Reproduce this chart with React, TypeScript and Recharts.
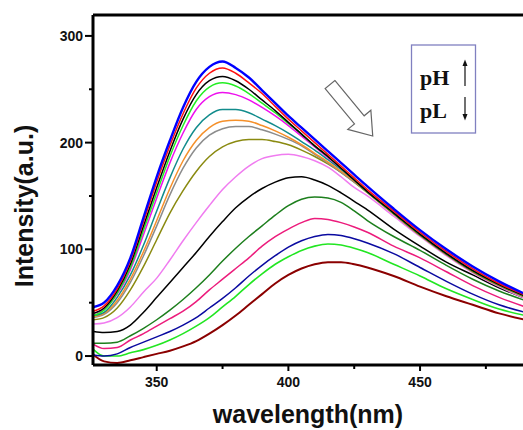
import { Line, LineChart, ReferenceLine, XAxis, YAxis } from "recharts";

// wavelength grid (nm) and intensity curves (a.u.)
const WAVELENGTH = [326, 330, 335, 340, 345, 350, 355, 360, 365, 370, 375, 380, 385, 390, 395, 400, 405, 410, 415, 420, 425, 430, 440, 450, 460, 470, 480, 490];

const blue = [46, 50, 66, 92, 130, 168, 202, 233, 257, 271, 276, 270, 261, 249, 237, 225, 214, 203, 192, 181, 170, 159, 138, 118, 100, 84, 70, 58];
const red = [42, 47, 63, 89, 126, 163, 197, 227, 251, 265, 270, 265, 256, 246, 234, 222, 211, 200, 189, 178, 167, 156, 136, 116, 98, 82, 68, 57];
const black = [40, 45, 61, 86, 122, 158, 192, 222, 245, 258, 262, 258, 250, 240, 230, 219, 208, 197, 187, 176, 165, 154, 134, 114, 96, 80, 67, 56];
const green = [38, 43, 59, 83, 118, 153, 187, 216, 239, 252, 256, 253, 246, 237, 228, 218, 208, 197, 187, 176, 165, 154, 134, 114, 96, 80, 67, 56];
const magenta = [40, 44, 58, 81, 114, 148, 181, 209, 231, 243, 247, 245, 240, 233, 225, 216, 206, 196, 186, 176, 165, 155, 135, 115, 97, 81, 68, 57];
const teal = [38, 41, 55, 76, 104, 136, 167, 194, 214, 226, 231, 231, 228, 222, 216, 209, 201, 193, 184, 175, 165, 154, 134, 114, 96, 80, 67, 56];
const orange = [37, 40, 52, 72, 98, 127, 157, 183, 202, 214, 220, 221, 220, 216, 211, 205, 198, 190, 182, 173, 164, 154, 134, 114, 96, 80, 67, 56];
const gray = [36, 39, 50, 69, 94, 122, 151, 176, 195, 207, 213, 215, 215, 212, 208, 203, 197, 189, 181, 172, 163, 154, 134, 114, 96, 80, 67, 56];
const olive = [34, 36, 45, 62, 84, 109, 134, 155, 173, 187, 196, 201, 203, 203, 201, 198, 193, 187, 180, 172, 163, 153, 133, 113, 95, 79, 66, 55];
const violet = [30, 31, 36, 46, 60, 73, 90, 108, 125, 141, 156, 168, 178, 185, 188, 189, 187, 183, 177, 168, 158, 150, 131, 112, 94, 78, 65, 54];
const black2 = [23, 22, 23, 29, 41, 55, 69, 83, 97, 112, 126, 139, 149, 157, 163, 167, 168, 165, 160, 153, 145, 137, 119, 103, 88, 76, 64, 54];
const darkGreen = [12, 12, 13, 19, 26, 34, 43, 53, 64, 76, 89, 101, 112, 122, 132, 141, 147, 149, 148, 144, 136, 127, 112, 99, 85, 72, 61, 52];
const pink = [11, 7, 8, 15, 21, 28, 35, 42, 51, 62, 72, 82, 92, 103, 112, 119, 125, 129, 128, 125, 121, 116, 103, 92, 79, 66, 55, 46];
const navy = [1, 0, 2, 8, 13, 18, 23, 29, 36, 45, 54, 64, 75, 85, 94, 102, 108, 112, 114, 113, 110, 106, 96, 83, 70, 58, 48, 41];
const lime = [6, 0, 0, 3, 6, 10, 15, 21, 28, 36, 46, 56, 67, 77, 86, 93, 99, 103, 105, 104, 101, 97, 86, 75, 63, 53, 44, 38];
const maroon = [1, -5, -6.5, -4, -1, 2, 5, 9, 14, 21, 29, 38, 48, 58, 68, 76, 82, 86, 88, 88, 86, 83, 75, 65, 56, 48, 40, 34];

const X_TICKS = [350, 375, 400, 425, 450, 475];
const Y_TICKS = [0, 50, 100, 150, 200, 250, 300];
const X_DOMAIN = [325.8, 489.1];
const Y_DOMAIN = [-8.4, 319.6];

// bottom curve first so the blue one ends up on top
const SERIES = [
  { key: "maroon", values: maroon, color: "#8b0000", width: 2 },
  { key: "lime", values: lime, color: "#22e622", width: 1.6 },
  { key: "navy", values: navy, color: "#0a0aa0", width: 1.5 },
  { key: "pink", values: pink, color: "#ec1c7c", width: 1.5 },
  { key: "darkGreen", values: darkGreen, color: "#1d7f1d", width: 1.5 },
  { key: "black2", values: black2, color: "#000000", width: 1.5 },
  { key: "violet", values: violet, color: "#f07cf0", width: 1.5 },
  { key: "olive", values: olive, color: "#8a8a10", width: 1.5 },
  { key: "gray", values: gray, color: "#8c8c8c", width: 1.5 },
  { key: "orange", values: orange, color: "#f5902a", width: 1.5 },
  { key: "teal", values: teal, color: "#128c8c", width: 1.5 },
  { key: "magenta", values: magenta, color: "#ee10ee", width: 1.5 },
  { key: "green", values: green, color: "#22ee22", width: 1.5 },
  { key: "black", values: black, color: "#000000", width: 1.5 },
  { key: "red", values: red, color: "#ff1010", width: 1.5 },
  { key: "blue", values: blue, color: "#0000ff", width: 2.4 }
];

const rows = WAVELENGTH.map((w, i) => {
  const row: Record<string, number> = { w };
  SERIES.forEach((s) => {
    row[s.key] = s.values[i];
  });
  return row;
});

const FONT = "'Liberation Sans', Arial, sans-serif";

function XTick(props: any) {
  const { x, y, payload } = props;
  const major = payload.value % 50 === 0;
  return (
    <g>
      <line x1={x} x2={x} y1={y} y2={y + (major ? 6 : 4)} stroke="#000" strokeWidth={2} />
      {major && (
        <text x={x} y={y + 22} textAnchor="middle" fontFamily={FONT} fontWeight="bold" fontSize={14} fill="#111">
          {payload.value}
        </text>
      )}
    </g>
  );
}

function YTick(props: any) {
  const { x, y, payload } = props;
  const major = payload.value % 100 === 0;
  return (
    <g>
      <line x1={x - (major ? 8 : 4)} x2={x} y1={y} y2={y} stroke="#000" strokeWidth={2} />
      {major && (
        <text x={x - 10} y={y + 5} textAnchor="end" fontFamily={FONT} fontWeight="bold" fontSize={14} fill="#111">
          {payload.value}
        </text>
      )}
    </g>
  );
}

export default function App() {
  return (
    <div style={{ position: "absolute", left: 0, top: 0, width: 523, height: 430, background: "#fff" }}>
      <LineChart width={523} height={430} data={rows} margin={{ top: 15, right: 0, left: 0, bottom: 0 }}>
        <XAxis
          dataKey="w"
          type="number"
          domain={X_DOMAIN}
          allowDataOverflow
          ticks={X_TICKS}
          interval={0}
          height={65}
          tickSize={0}
          tickMargin={0}
          tick={XTick}
          axisLine={{ stroke: "#000", strokeWidth: 3 }}
          label={{
            content: () => (
              <text x={308} y={423} textAnchor="middle" fontFamily={FONT} fontWeight="bold" fontSize={25} fill="#111">
                wavelength(nm)
              </text>
            )
          }}
        />
        <YAxis
          type="number"
          domain={Y_DOMAIN}
          allowDataOverflow
          ticks={Y_TICKS}
          interval={0}
          width={93}
          tickSize={0}
          tickMargin={0}
          tick={YTick}
          axisLine={{ stroke: "#000", strokeWidth: 3 }}
          label={{
            content: () => (
              <text
                x={33}
                y={206}
                transform="rotate(-90 33 206)"
                textAnchor="middle"
                fontFamily={FONT}
                fontWeight="bold"
                fontSize={25}
                fill="#111"
              >
                Intensity(a.u.)
              </text>
            )
          }}
        />
        <ReferenceLine y={Y_DOMAIN[1]} stroke="#000" strokeWidth={3} />
        {SERIES.map((s) => (
          <Line
            key={s.key}
            dataKey={s.key}
            type="monotone"
            stroke={s.color}
            strokeWidth={s.width}
            dot={false}
            isAnimationActive={false}
          />
        ))}
      </LineChart>
      <svg width={523} height={430} style={{ position: "absolute", left: 0, top: 0, pointerEvents: "none" }}>
        {/* hollow trend arrow */}
        <polygon
          points="0,-6.3 45.9,-6.3 45.9,-15 66.9,0 45.9,15 45.9,6.3 0,6.3"
          transform="translate(330 84.5) rotate(50.3)"
          fill="#fff"
          stroke="#666"
          strokeWidth={1.2}
        />
        {/* pH / pL box */}
        <rect x={411.5} y={45} width={64} height={88} fill="#fff" stroke="#8080c0" strokeWidth={1.3} />
        <text x={420} y={85} fontFamily="'Liberation Serif', 'Times New Roman', serif" fontWeight="bold" fontSize={22} fill="#111">
          pH
        </text>
        <text x={420} y={118} fontFamily="'Liberation Serif', 'Times New Roman', serif" fontWeight="bold" fontSize={22} fill="#111">
          pL
        </text>
        <line x1={465} x2={465} y1={86} y2={65} stroke="#111" strokeWidth={1.2} />
        <polygon points="462.5,66 465,59.5 467.5,66" fill="#111" />
        <line x1={465} x2={465} y1={97} y2={115} stroke="#111" strokeWidth={1.2} />
        <polygon points="462.5,114 465,120.5 467.5,114" fill="#111" />
      </svg>
    </div>
  );
}
